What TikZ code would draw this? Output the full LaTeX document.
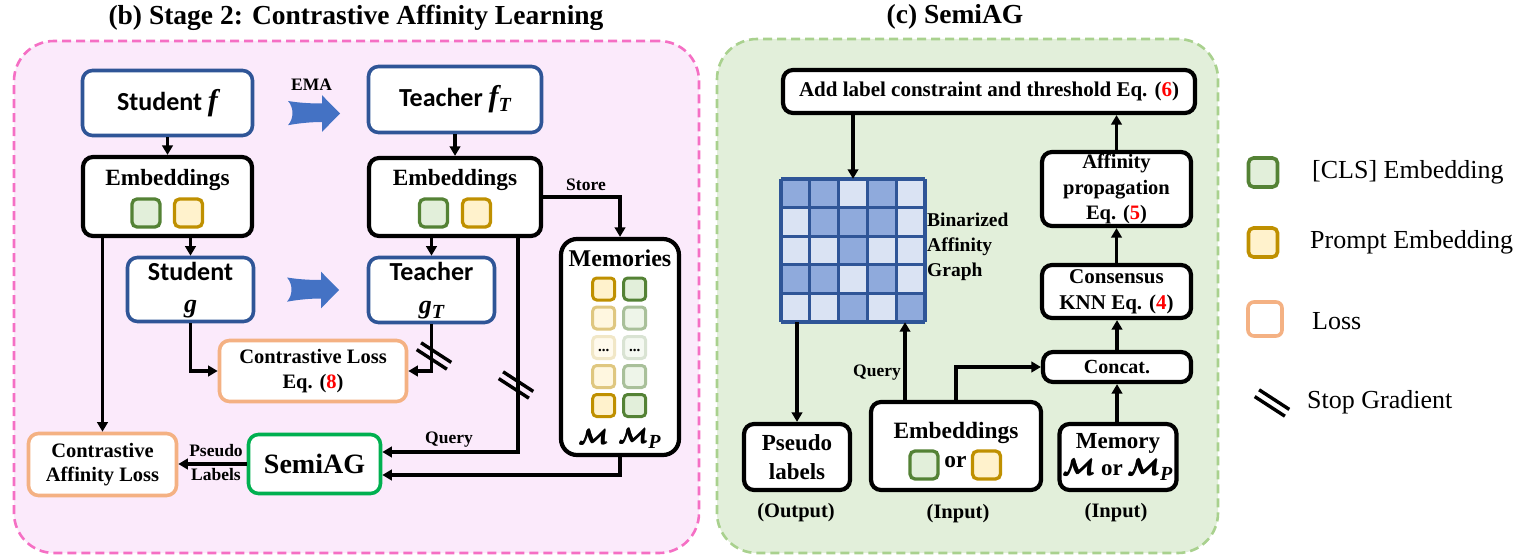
\documentclass[tikz,border=0pt]{standalone}
\usepackage{fix-cm}
\usepackage{fontspec}
\usepackage{amsmath}
\usepackage{bm}
\setmainfont{Liberation Serif}
\newfontfamily\calibri{Carlito}
\usetikzlibrary{arrows.meta}
\definecolor{pinkb}{HTML}{F56FC4}
\definecolor{pinkf}{HTML}{FBEAFB}
\definecolor{greenb}{HTML}{A9D18E}
\definecolor{greenf}{HTML}{E2EFDA}
\definecolor{blueb}{HTML}{2F5597}
\definecolor{emab}{HTML}{4472C4}
\definecolor{lossb}{HTML}{F4B183}
\definecolor{semib}{HTML}{00B050}
\definecolor{clsb}{HTML}{548235}
\definecolor{clsf}{HTML}{E2EFDA}
\definecolor{prb}{HTML}{BF9000}
\definecolor{prf}{HTML}{FFF2CC}
\definecolor{gdark}{HTML}{8FAADC}
\definecolor{glight}{HTML}{DAE3F3}
\newcommand\fsz[2]{\fontsize{#1}{#2}\selectfont}
\newcommand\bitx[1]{{\rmfamily\bfseries\itshape #1}}
\newcommand\bigx[1]{{\fsz{30}{30}\bitx{#1}}}
\newcommand\midx[1]{{\fsz{26}{26}\bitx{#1}}}
\newcommand\subx[1]{\raisebox{-5pt}{\fsz{20}{20}\bitx{#1}}}
\newcommand\calM{{\boldmath$\pmb{\mathcal{M}}$}}
\tikzset{
  box/.style={fill=white, rounded corners=10pt, inner sep=0pt, align=center},
  bluebox/.style={box, draw=blueb, line width=3.6pt, font=\calibri\bfseries\fsz{26}{27}},
  blackbox/.style={box, draw=black, line width=4.2pt},
  lossbox/.style={box, draw=lossb, line width=3.6pt},
  panel/.style={line width=2.6pt, dash pattern=on 9pt off 5pt, rounded corners=40pt, inner sep=0pt},
  conn/.style={line width=3.2pt, -{Triangle[length=9.5pt,width=10.5pt]}},
  sqb/.style={line width=3.3pt, rounded corners=5pt, minimum size=28pt, inner sep=0pt},
  cls/.style={sqb, draw=clsb, fill=clsf},
  prm/.style={sqb, draw=prb, fill=prf},
  msq/.style={line width=3pt, rounded corners=4pt, minimum size=22pt, inner sep=0pt},
  lbl/.style={font=\bfseries\fsz{17.5}{20}, inner sep=0pt},
  legt/.style={font=\fsz{26}{28}, inner sep=0pt, anchor=west},
  stopg/.pic={\draw[line width=3.4pt] (-17.3,-6.4) -- (12.9,13.2); \draw[line width=3.4pt] (-12.9,-13.2) -- (17.3,6.4);},
  emaarrow/.pic={\fill[emab] (0,-12.5) .. controls (12,-10.5) and (24,-10) .. (34,-10) -- (34,-18.3) -- (52,0) -- (34,18.4) -- (34,8.5) .. controls (24,8.5) and (12,9.5) .. (0,11.7) .. controls (6,5) and (6,-6) .. (0,-12.5) -- cycle;}
}
\begin{document}
\begin{tikzpicture}[x=1pt,y=-1pt]
\useasboundingbox (0,0) rectangle (1529,556);
% panels
\node[panel, draw=pinkb, fill=pinkf, minimum width=685, minimum height=512] (panelB) at (356.5,297) {};
\node[panel, draw=greenb, fill=greenf, minimum width=501, minimum height=514] (panelC) at (967.5,296) {};
\node[font=\bfseries\fsz{27.5}{30}] (titleB) at (356,18) {(b) Stage 2: Contrastive Affinity Learning};
\node[font=\bfseries\fsz{27.5}{30}] (titleC) at (955,17) {(c) SemiAG};
% left boxes
\node[bluebox, minimum width=170, minimum height=65] (sf) at (167.5,103) {Student \bigx{f}};
\node[bluebox, minimum width=173, minimum height=66] (tf) at (455,99.5) {Teacher \bigx{f}\subx{T}};
\node[blackbox, minimum width=169, minimum height=79] (embL) at (167.5,196.5) {};
\node[blackbox, minimum width=172, minimum height=78] (embR) at (455,197) {};
\node[font=\bfseries\fsz{23.3}{26}] (embLt) at (167.5,180) {Embeddings};
\node[font=\bfseries\fsz{23.3}{26}] (embRt) at (455,180) {Embeddings};
\node[cls] (embLc) at (146,213) {};
\node[prm] (embLp) at (188.5,213) {};
\node[cls] (embRc) at (433.5,213) {};
\node[prm] (embRp) at (476.5,213) {};
\node[bluebox, minimum width=126, minimum height=64] (sg) at (190.5,289.5) {};
\node[font=\calibri\bfseries\fsz{26}{27}, inner sep=0pt] (sgt) at (190.5,271.5) {Student};
\node[inner sep=0pt] (sgg) at (190.5,309) {\midx{g}};
\node[bluebox, minimum width=126, minimum height=65] (tg) at (431.5,290) {};
\node[font=\calibri\bfseries\fsz{26}{27}, inner sep=0pt] (tgt) at (431.5,271.5) {Teacher};
\node[inner sep=0pt] (tgg) at (431.5,310) {\midx{g}\subx{T}};
\node[lossbox, minimum width=187, minimum height=61, font=\bfseries\fsz{20.5}{25}] (closs) at (313,371) {Contrastive Loss\\Eq. (\textcolor{red}{8})};
\node[lossbox, minimum width=148, minimum height=62, font=\bfseries\fsz{20.5}{24}] (caloss) at (102.5,464.5) {Contrastive\\Affinity Loss};
\node[box, draw=semib, line width=3.6pt, minimum width=132, minimum height=59, font=\bfseries\fsz{28}{30}] (semiag) at (314.5,464) {SemiAG};
\node[blackbox, rounded corners=16pt, minimum width=118, minimum height=216] (mem) at (620,347) {};
\node[font=\bfseries\fsz{24}{26}] (memt) at (620,258) {Memories};
% memory squares
\node[msq, draw=prb, fill=prf] (m11) at (603.7,289) {};
\node[msq, draw=clsb, fill=clsf] (m12) at (634.7,289) {};
\node[msq, draw=prb!50!white, fill=prf!60!white] (m21) at (603.7,318) {};
\node[msq, draw=clsb!50!white, fill=clsf!60!white] (m22) at (634.7,318) {};
\node[msq, draw=prb!22!white, fill=prf!35!white] (m31) at (603.7,347.5) {};
\node[msq, draw=clsb!22!white, fill=clsf!35!white] (m32) at (634.7,347.5) {};
\node[font=\bfseries\fsz{15}{15}] (d1) at (603.7,350) {...};
\node[font=\bfseries\fsz{15}{15}] (d2) at (634.7,350) {...};
\node[msq, draw=prb!50!white, fill=prf!60!white] (m41) at (603.7,376.5) {};
\node[msq, draw=clsb!50!white, fill=clsf!60!white] (m42) at (634.7,376.5) {};
\node[msq, draw=prb, fill=prf] (m51) at (603.7,405.5) {};
\node[msq, draw=clsb, fill=clsf] (m52) at (634.7,405.5) {};
\node[font=\bfseries\fsz{21}{24}] (mM) at (594,437) {\calM};
\node[font=\bfseries\fsz{21}{24}] (mMP) at (640,438) {\calM\subx{P}};
% EMA arrows
\pic at (288,113.5) {emaarrow};
\pic at (287,290) {emaarrow};
\node[lbl] (ema) at (311.5,85) {EMA};
% left connectors
\draw[conn] (sf) -- (embL);
\draw[conn] (tf) -- (embR);
\draw[conn] (embL.south -| sg.north) -- (sg.north);
\draw[conn] (embR.south -| tg.north) -- (tg.north);
\draw[conn] (embR.east) -| (mem.north);
\node[lbl] (store) at (586,185) {Store};
\draw[conn] (sg.south) |- (closs.west);
\draw[conn] (tg.south) |- (closs.east);
\draw[conn] (embL.south -| caloss.north) -- (caloss.north);
\coordinate (qc) at (518,452);
\draw[conn] (embR.south -| qc) -- (qc) -- (qc -| semiag.east);
\node[lbl] (query) at (449,440) {Query};
\coordinate (mc) at (620,475);
\draw[conn] (mem.south) -- (mem.south |- mc) -- (mc -| semiag.east);
\draw[conn] (semiag.west) -- (semiag.west -| caloss.east);
\node[lbl] (pl1) at (216,451) {Pseudo};
\node[lbl] (pl2) at (216,475) {Labels};
\pic at (434,356) {stopg};
\pic at (516,385) {stopg};
% right panel
\node[blackbox, minimum width=412, minimum height=43, font=\bfseries\fsz{21}{24}] (addbox) at (989,91.5) {Add label constraint and threshold Eq. (\textcolor{red}{6})};
\fill[glight] (781,179) rectangle (925,322);
\foreach \c/\r in {0/0,1/0,3/0,1/1,2/1,3/1,2/2,0/3,1/3,3/3,2/4,4/4}
  \fill[gdark] ({781+28.8*\c},{179+28.6*\r}) rectangle ++(28.8,28.6);
\foreach \i in {0,...,5} {
  \draw[blueb, line width=3.2pt] ({781+28.8*\i},179) -- ({781+28.8*\i},322);
  \draw[blueb, line width=3.2pt] (781,{179+28.6*\i}) -- (925,{179+28.6*\i});
}
\node[minimum width=144, minimum height=143, inner sep=0pt] (grid) at (853,250.5) {};
\node[font=\bfseries\fsz{19.5}{25}, align=left, anchor=west, inner sep=0pt] (bag) at (927,247) {Binarized\\Affinity\\Graph};
\node[blackbox, minimum width=149, minimum height=74, font=\bfseries\fsz{20.5}{25.5}] (affbox) at (1116.5,189) {Affinity\\propagation\\Eq. (\textcolor{red}{5})};
\node[blackbox, minimum width=149, minimum height=53, font=\bfseries\fsz{21}{26}] (consbox) at (1116.5,291.5) {Consensus\\KNN Eq. (\textcolor{red}{4})};
\node[blackbox, minimum width=148, minimum height=30, font=\bfseries\fsz{20}{24}] (concat) at (1117,367) {Concat.};
\node[blackbox, minimum width=117, minimum height=66, font=\bfseries\fsz{23}{27}] (membox) at (1118,457) {Memory\\\calM\ or \calM\subx{P}};
\node[blackbox, minimum width=170, minimum height=88] (embbox) at (956,446) {};
\node[font=\bfseries\fsz{23.4}{26}] (embboxt) at (956,433) {Embeddings};
\node[cls] (ebc) at (924,465) {};
\node[prm] (ebp) at (986.5,465) {};
\node[font=\bfseries\fsz{23.4}{26}] (ebor) at (955.5,462) {or};
\node[blackbox, minimum width=106, minimum height=66, font=\bfseries\fsz{23}{29}] (pseudo) at (797,457) {Pseudo\\labels};
\node[font=\bfseries\fsz{20.5}{24}] (outl) at (796,513) {(Output)};
\node[font=\bfseries\fsz{20.5}{24}] (in1) at (958,514) {(Input)};
\node[font=\bfseries\fsz{20.5}{24}] (in2) at (1116,513) {(Input)};
% right connectors
\draw[conn] (addbox.south -| grid.north) -- (grid.north);
\draw[conn] (affbox.north) -- (affbox.north |- addbox.south);
\draw[conn] (consbox.north) -- (consbox.north |- affbox.south);
\draw[conn] (concat.north) -- (concat.north |- consbox.south);
\draw[conn] (membox.north -| concat.south) -- (concat.south);
\coordinate (qx) at (905,0);
\draw[conn] (embbox.north -| qx) -- (grid.south -| qx);
\node[lbl] (query2) at (877,373) {Query};
\draw[conn] (embbox.north) |- (concat.west);
\draw[conn] (grid.south -| pseudo.north) -- (pseudo.north);
% legend
\node[cls, line width=3.6pt, minimum size=29pt] (lg1) at (1263,172.5) {};
\node[prm, line width=3.6pt, minimum size=29pt] (lg2) at (1263,242.5) {};
\node[sqb, draw=lossb, fill=white, line width=3.6pt, minimum size=34pt, rounded corners=6pt] (lg3) at (1265,319) {};
\pic at (1272,403) {stopg};
\node[legt] (lt1) at (1312,172) {[CLS] Embedding};
\node[legt] (lt2) at (1310,242) {Prompt Embedding};
\node[legt] (lt3) at (1312,321) {Loss};
\node[legt] (lt4) at (1307,402) {Stop Gradient};
\end{tikzpicture}
\end{document}
